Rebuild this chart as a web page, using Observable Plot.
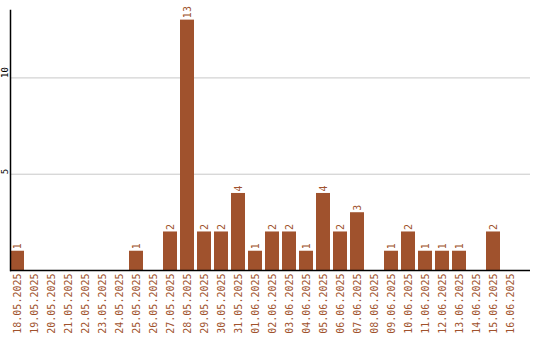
<!DOCTYPE html>
<html>
<head>
<meta charset="utf-8">
<script src="https://cdn.jsdelivr.net/npm/d3@7"></script>
<script src="https://cdn.jsdelivr.net/npm/@observablehq/plot@0.6"></script>
<style>
  html, body { margin: 0; padding: 0; background: #fff; }
  #chart svg { display: block; }
</style>
</head>
<body>
<div id="chart"></div>
<script>
const dates = ["18.05.2025","19.05.2025","20.05.2025","21.05.2025","22.05.2025","23.05.2025","24.05.2025","25.05.2025","26.05.2025","27.05.2025","28.05.2025","29.05.2025","30.05.2025","31.05.2025","01.06.2025","02.06.2025","03.06.2025","04.06.2025","05.06.2025","06.06.2025","07.06.2025","08.06.2025","09.06.2025","10.06.2025","11.06.2025","12.06.2025","13.06.2025","14.06.2025","15.06.2025","16.06.2025"];
const counts = [1,0,0,0,0,0,0,1,0,2,13,2,2,4,1,2,2,1,4,2,3,0,1,2,1,1,1,0,2,0];
const yTicks = [5, 10];

const data = dates.map((d, i) => ({date: d, value: counts[i]}));
const font = "'DejaVu Sans Mono', monospace";
const brown = "#a0522d";

const chart = Plot.plot({
  width: 540,
  height: 340,
  marginLeft: 10,
  marginRight: 10,
  marginTop: 10,
  marginBottom: 70,
  style: {fontFamily: font, fontSize: "10px", background: "#fff"},
  x: {domain: dates, range: [10, 520], paddingInner: 0.18, paddingOuter: 0, align: 0},
  y: {domain: [0, 13.5], range: [270, 10], axis: null},
  marks: [
    Plot.ruleY(yTicks, {stroke: "#c8c8c8", strokeWidth: 1}),
    Plot.barY(data, {x: "date", y: "value", fill: brown}),
    Plot.text(data.filter(d => d.value > 0), {x: "date", y: "value", text: d => String(d.value), rotate: -90, textAnchor: "start", dy: -2, fill: brown, fontFamily: font, fontSize: 10}),
    Plot.axisX({tickSize: 0, tickPadding: 3, tickRotate: -90, fill: brown, label: null, fontFamily: font, fontSize: 10}),
    Plot.text(yTicks, {y: d => d, frameAnchor: "left", dx: -5, rotate: -90, text: d => String(d), fill: "#000", fontFamily: font, fontSize: 9}),
    Plot.ruleY([0], {stroke: "#000", strokeWidth: 1.5}),
    Plot.frame({anchor: "left", stroke: "#000", strokeWidth: 1.5})
  ]
});
document.getElementById("chart").appendChild(chart);
</script>
</body>
</html>
